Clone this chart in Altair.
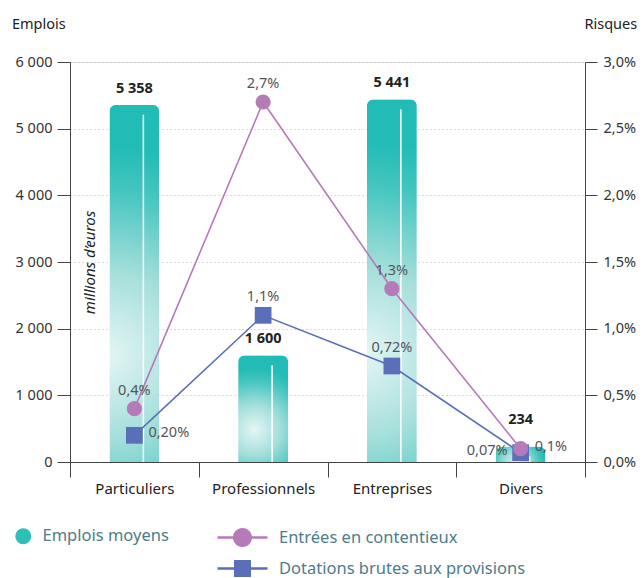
import altair as alt
import pandas as pd

# Categories and values
categories = ["Particuliers", "Professionnels", "Entreprises", "Divers"]
emplois = [5358, 1600, 5441, 234]
emplois_labels = ["5 358", "1 600", "5 441", "234"]

entrees = [0.4, 2.7, 1.3, 0.1]
entrees_labels = ["0,4%", "2,7%", "1,3%", "0,1%"]
entrees_pos = ["above", "above", "above", "right"]

dotations = [0.20, 1.1, 0.72, 0.07]
dotations_labels = ["0,20%", "1,1%", "0,72%", "0,07%"]
dotations_pos = ["right", "above", "above", "left"]

series_names = ["Entrées en contentieux", "Dotations brutes aux provisions"]
bar_series = "Emplois moyens"

TEAL = "#22bcb6"
PURPLE = "#b57ab8"
BLUE = "#5a6fb8"
FONT = "Noto Sans"
FS = 14.5

bars_df = pd.DataFrame({
    "cat": categories,
    "emplois": emplois,
    "label": emplois_labels,
    "kind": bar_series,
})

lines_df = pd.concat([
    pd.DataFrame({"cat": categories, "value": entrees, "label": entrees_labels,
                  "pos": entrees_pos, "series": series_names[0]}),
    pd.DataFrame({"cat": categories, "value": dotations, "label": dotations_labels,
                  "pos": dotations_pos, "series": series_names[1]}),
], ignore_index=True)

x_enc = alt.X(
    "cat:N", sort=categories, title=None,
    scale=alt.Scale(paddingInner=0, paddingOuter=0),
    axis=alt.Axis(labelAngle=0, tickBand="extent", tickSize=15, labelPadding=4,
                  domainColor="#444", tickColor="#444", labelColor="#222",
                  labelFontSize=15, labelFont=FONT, grid=False),
)

y_left = alt.Y(
    "emplois:Q",
    scale=alt.Scale(domain=[0, 6000], nice=False),
    axis=alt.Axis(
        orient="left", values=[0, 1000, 2000, 3000, 4000, 5000, 6000],
        labelExpr="replace(format(datum.value, ','), ',', ' ')",
        grid=True, gridColor="#b8b8b8", gridDash=[1, 3], gridWidth=1,
        domainColor="#444", tickColor="#444", tickSize=13, labelPadding=5,
        labelColor="#333", labelFontSize=FS, labelFont=FONT,
        title="millions d’euros", titleAngle=-90, titleX=19, titleY=200,
        titleAlign="center", titleBaseline="middle", titleFontStyle="italic",
        titleFontWeight="normal", titleFontSize=15, titleColor="#222", titleFont=FONT,
    ),
)

y_right = alt.Y(
    "value:Q",
    scale=alt.Scale(domain=[0, 3], nice=False),
    axis=alt.Axis(
        orient="right", values=[0, 0.5, 1, 1.5, 2, 2.5, 3],
        labelExpr="replace(format(datum.value, '.1f'), '.', ',') + '%'",
        grid=False, domainColor="#444", tickColor="#444", tickSize=12, labelPadding=6,
        labelColor="#333", labelFontSize=FS, labelFont=FONT,
        title="Risques", titleAngle=0, titleX=-1, titleY=-38,
        titleAlign="left", titleBaseline="middle", titleFontWeight="normal",
        titleFontSize=FS, titleColor="#222", titleFont=FONT,
    ),
)

bar_fill = alt.RadialGradient(
    gradient="radial", x1=0.42, y1=0.7, r1=0, x2=0.42, y2=0.7, r2=0.58,
    stops=[
        alt.GradientStop(offset=0, color="#e4f6f5"),
        alt.GradientStop(offset=0.4, color="#a6dfdb"),
        alt.GradientStop(offset=0.8, color="#44c5bf"),
        alt.GradientStop(offset=1, color=TEAL),
    ],
)

bar_base = alt.Chart(bars_df).encode(x=x_enc)

bars = bar_base.mark_bar(width=50, fill=bar_fill, cornerRadiusTopLeft=7,
                         cornerRadiusTopRight=7).encode(y=y_left)

shine = bar_base.mark_rule(color="white", strokeWidth=1.5, xOffset=9, yOffset=10).encode(
    y=y_left, y2=alt.datum(0)
)

bar_text = bar_base.mark_text(baseline="bottom", dy=-9, fontWeight="bold", fontSize=FS,
                              color="#222", font=FONT).encode(
    y=y_left, text="label:N"
).transform_filter(alt.datum.cat != "Divers")

bar_text_small = bar_base.mark_text(baseline="bottom", dy=-19, fontWeight="bold", fontSize=FS,
                                    color="#222", font=FONT).encode(
    y=y_left, text="label:N"
).transform_filter(alt.datum.cat == "Divers")

bar_legend = alt.Chart(bars_df).mark_point(filled=True, shape="circle", opacity=1).encode(
    fill=alt.Fill(
        "kind:N",
        scale=alt.Scale(domain=[bar_series], range=["#2ebfb9"]),
        legend=alt.Legend(
            title=None, orient="none", legendX=-55, legendY=466,
            symbolSize=254, symbolStrokeWidth=0, labelOffset=11,
            labelFontSize=16.5, labelColor="#4d7c8a", labelFont=FONT,
            symbolOpacity=1,
        ),
    )
).transform_filter("false")

bar_layer = alt.layer(bars, shine, bar_text, bar_text_small, bar_legend)

line_base = alt.Chart(lines_df).encode(x=x_enc, y=y_right)

blue_line = line_base.mark_line(color=BLUE, strokeWidth=1.6).transform_filter(
    alt.datum.series == series_names[1])
purple_line = line_base.mark_line(color=PURPLE, strokeWidth=1.6).transform_filter(
    alt.datum.series == series_names[0])
squares = line_base.mark_square(color=BLUE, size=280, opacity=1).transform_filter(
    alt.datum.series == series_names[1])
circles = line_base.mark_circle(color=PURPLE, size=230, opacity=1).transform_filter(
    alt.datum.series == series_names[0])

label_style = dict(fontSize=FS, color="#555", font=FONT)
lbl_above = line_base.mark_text(baseline="bottom", dy=-11, **label_style).encode(
    text="label:N").transform_filter(alt.datum.pos == "above")
lbl_right = line_base.mark_text(align="left", baseline="middle", dx=14, dy=-2, **label_style).encode(
    text="label:N").transform_filter(alt.datum.pos == "right")
lbl_left = line_base.mark_text(align="right", baseline="middle", dx=-13, dy=-2, **label_style).encode(
    text="label:N").transform_filter(alt.datum.pos == "left")

# Legend symbols: a short line segment with a marker on it
circle_path = ("M-2.94,-0.14L2.94,-0.14L2.94,0.14L-2.94,0.14Z "
               "M1.12,0A1.12,1.12 0 1,1 -1.12,0A1.12,1.12 0 1,1 1.12,0Z")
square_path = ("M-2.94,-0.14L2.94,-0.14L2.94,0.14L-2.94,0.14Z "
               "M-1,-1L1,-1L1,1L-1,1Z")

line_legend = alt.Chart(lines_df).mark_point(filled=True, opacity=1).encode(
    color=alt.Color(
        "series:N",
        scale=alt.Scale(domain=series_names, range=[PURPLE, BLUE]),
        legend=alt.Legend(
            title=None, orient="none", legendX=164, legendY=467, direction="vertical",
            symbolSize=289, symbolStrokeWidth=0, labelOffset=28, rowPadding=12,
            labelFontSize=16.5, labelColor="#4d7c8a", labelFont=FONT, labelLimit=400,
            symbolOpacity=1,
        ),
    ),
    shape=alt.Shape(
        "series:N",
        scale=alt.Scale(domain=series_names, range=[circle_path, square_path]),
        legend=alt.Legend(title=None),
    ),
).transform_filter("false")

line_layer = alt.layer(blue_line, purple_line, squares, circles,
                       lbl_above, lbl_right, lbl_left, line_legend)

chart = alt.layer(bar_layer, line_layer).resolve_scale(y="independent").properties(
    width=515,
    height=400,
    autosize=alt.AutoSizeParams(type="none"),
    padding={"left": 70, "top": 62, "right": 59, "bottom": 116},
    title=alt.TitleParams("Emplois", anchor="start", frame="group", dx=-58, dy=20,
                          fontSize=FS, fontWeight="normal", color="#222", font=FONT),
).configure_view(stroke=None).configure(font=FONT, background="white")

chart.save("out.html", embed_options={"renderer": "svg", "actions": False})
